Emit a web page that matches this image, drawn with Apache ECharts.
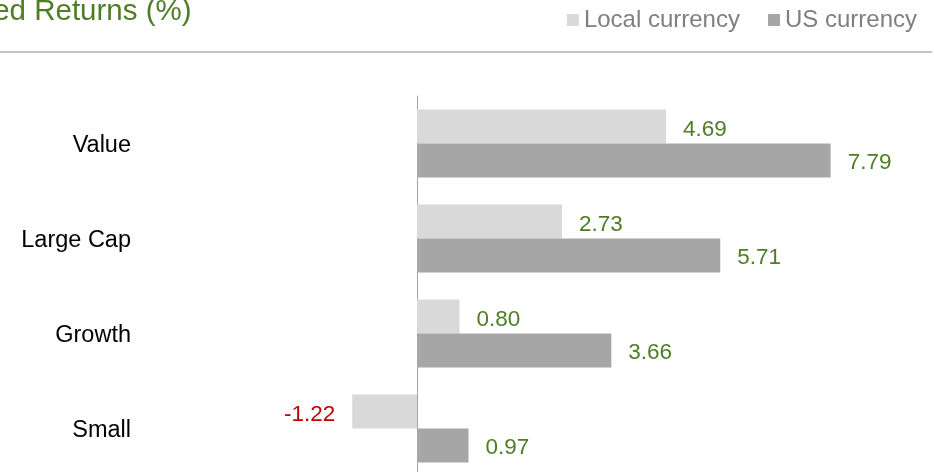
<!DOCTYPE html>
<html>
<head>
<meta charset="utf-8">
<script src="https://cdn.jsdelivr.net/npm/echarts@6/dist/echarts.min.js"></script>
<style>
    html, body {margin: 0; padding: 0; background: #fff;}
    #chart_1 {width: 934px; height: 472px;}
</style>
</head>
<body>
<div id="chart_1"></div>
<script>
// data
var categories = ['Value', 'Large Cap', 'Growth', 'Small'];
var localCurrency = [4.69, 2.73, 0.80, -1.22];
var usCurrency = [7.79, 5.71, 3.66, 0.97];

var GREEN = '#4e7d24';
var RED = '#c00000';
var FONT = 'Liberation Sans, Arial, sans-serif';

function valueLabel(params) {
    return params.value.toFixed(2);
}

function barData(arr) {
    return arr.map(function (v) {
        return {
            value: v,
            label: {
                position: v < 0 ? 'left' : 'right',
                color: v < 0 ? RED : GREEN
            }
        };
    });
}

var myChart = echarts.init(document.getElementById('chart_1'));
var option = {
    animation: false,
    title: {
        text: 'Annualized Returns (%)',
        left: -125,
        top: -8,
        textStyle: {
            color: GREEN,
            fontSize: 29.5,
            fontWeight: 'normal',
            fontFamily: FONT
        }
    },
    legend: {
        data: ['Local currency', 'US currency'],
        right: 12,
        top: 3,
        itemWidth: 12,
        itemHeight: 12,
        itemGap: 28,
        icon: 'rect',
        textStyle: {
            color: '#7f7f7f',
            fontSize: 24,
            fontFamily: FONT
        }
    },
    graphic: [
        {
            type: 'line',
            shape: {x1: 0, y1: 52, x2: 932, y2: 52},
            style: {stroke: '#c4c4c4', lineWidth: 2}
        }
    ],
    grid: {
        left: 204.6,
        width: 690.3,
        top: 96,
        height: 380,
        outerBoundsMode: 'none',
        containLabel: false
    },
    xAxis: {
        type: 'value',
        min: -4,
        max: 9,
        show: false
    },
    yAxis: {
        type: 'category',
        data: categories,
        inverse: true,
        axisTick: {show: false},
        axisLine: {
            show: true,
            onZero: true,
            lineStyle: {color: '#a6a6a6', width: 1}
        },
        axisLabel: {
            margin: 73.6,
            formatter: '{c|{value}}',
            rich: {
                c: {
                    color: '#000',
                    fontSize: 23.5,
                    fontFamily: FONT,
                    padding: [4, 0, 0, 0]
                }
            }
        }
    },
    series: [
        {
            name: 'Local currency',
            type: 'bar',
            barWidth: 34,
            barGap: '0%',
            itemStyle: {color: '#d9d9d9'},
            label: {
                show: true,
                distance: 17,
                offset: [0, 3],
                fontSize: 22.5,
                fontFamily: FONT,
                formatter: valueLabel
            },
            data: barData(localCurrency)
        },
        {
            name: 'US currency',
            type: 'bar',
            barWidth: 34,
            barGap: '0%',
            itemStyle: {color: '#a6a6a6'},
            label: {
                show: true,
                distance: 17,
                offset: [0, 2],
                fontSize: 22.5,
                fontFamily: FONT,
                formatter: valueLabel
            },
            data: barData(usCurrency)
        }
    ]
};

myChart.setOption(option);
</script>
</body>
</html>
